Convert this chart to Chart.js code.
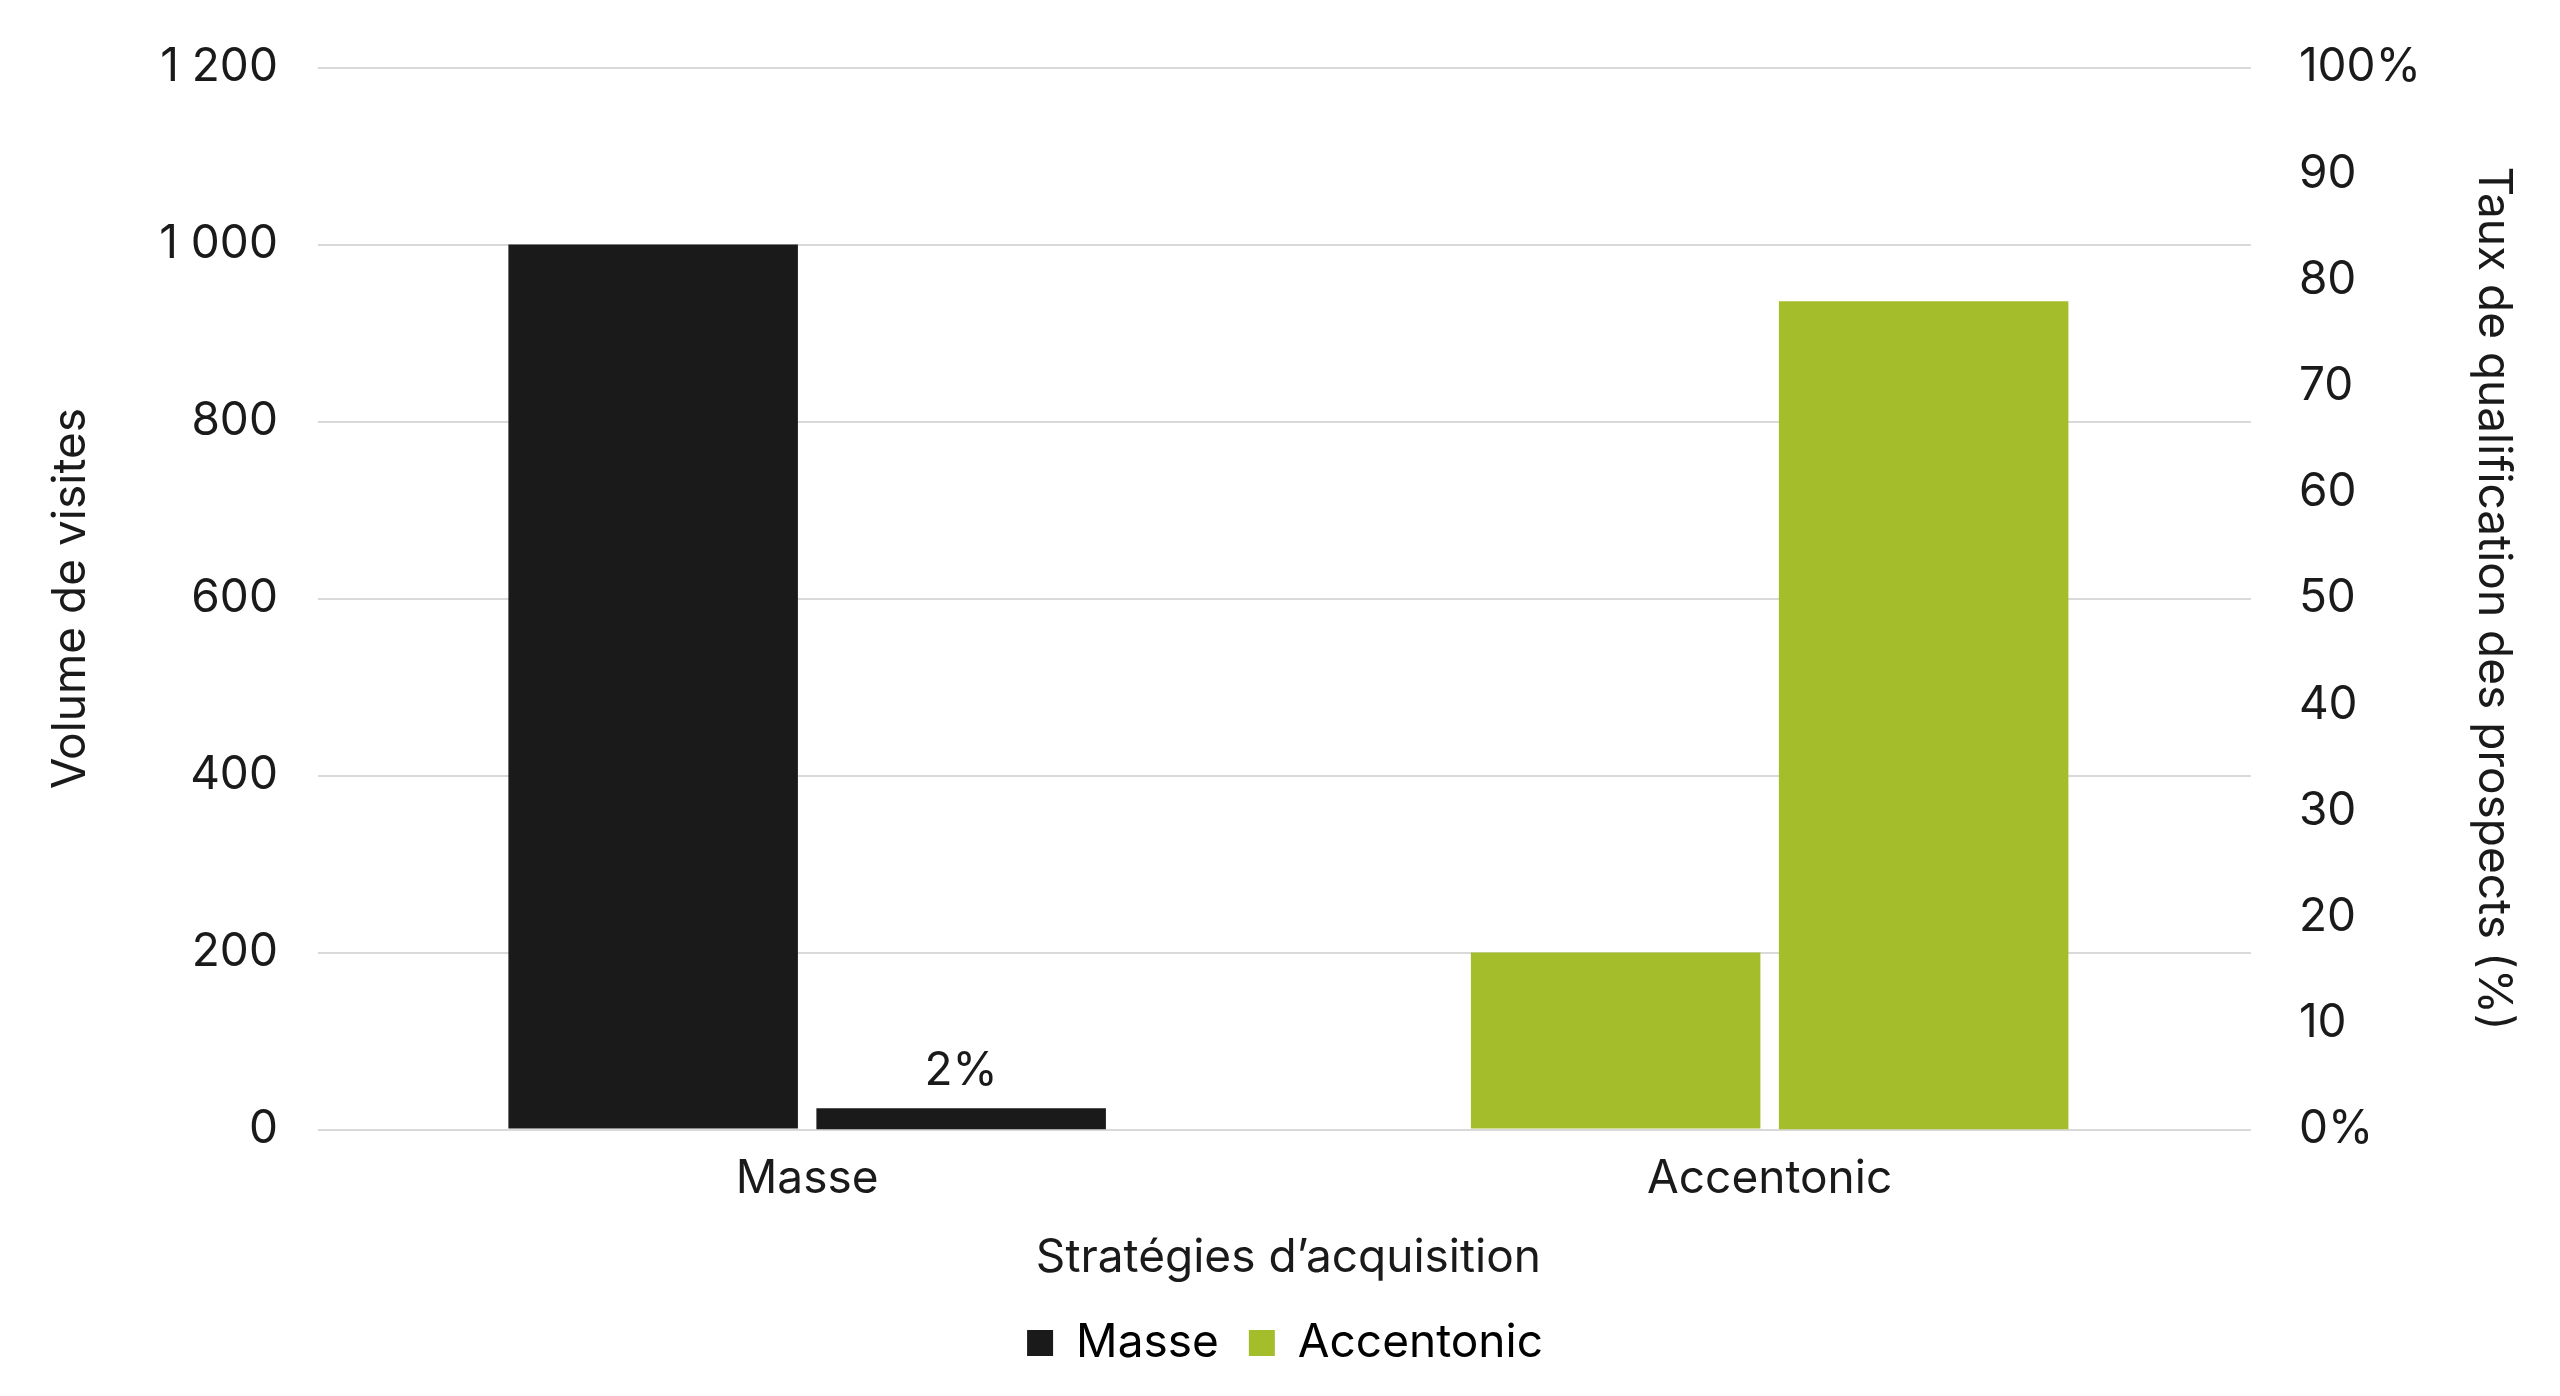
<!DOCTYPE html>
<html><head><meta charset="utf-8">
<script src="https://cdn.jsdelivr.net/npm/chart.js@4/dist/chart.umd.min.js"></script>
<style>html,body{margin:0;background:#fff}#wrap{width:2560px;height:1396px}</style>
</head><body><div id="wrap"><canvas id="c"></canvas></div>
<script>
const categories=['Masse','Accentonic'];
const volume=[1000,200];
const rate=[2,78];
const colors=['#1a1a1a','#a4bd2a'];
const rateLabels=['2%',''];

Chart.defaults.font.family='Inter';
Chart.defaults.color='#1a1a1a';

const barLabels={id:'barLabels',afterDatasetsDraw(ch){
  const ctx=ch.ctx,meta=ch.getDatasetMeta(1);
  ctx.save();ctx.font='46px Inter';ctx.fillStyle='#1a1a1a';ctx.textAlign='center';ctx.textBaseline='bottom';
  meta.data.forEach((b,i)=>{if(rateLabels[i])ctx.fillText(rateLabels[i],b.x,b.y-14);});
  ctx.restore();
}};

new Chart(document.getElementById('c'),{
  type:'bar',
  data:{labels:categories,datasets:[
    {label:'Volume de visites',data:volume,backgroundColor:colors,yAxisID:'y',categoryPercentage:0.64,barPercentage:0.94},
    {label:'Taux',data:rate,backgroundColor:colors,yAxisID:'y1',categoryPercentage:0.64,barPercentage:0.94}
  ]},
  options:{responsive:true,maintainAspectRatio:false,animation:false,
    layout:{padding:{left:40,right:30,top:30,bottom:20}},
    plugins:{tooltip:{enabled:false},
      legend:{position:'bottom',labels:{font:{size:46},boxWidth:26,boxHeight:26,padding:30,
        generateLabels:()=>categories.map((c,i)=>({text:c,fillStyle:colors[i],strokeStyle:colors[i],lineWidth:0,datasetIndex:i}))},
        onClick:()=>{}}},
    scales:{
      x:{grid:{display:false},border:{display:false},ticks:{font:{size:46},padding:14},
        title:{display:true,text:'Stratégies d’acquisition',font:{size:46},padding:{top:10}}},
      y:{min:0,max:1200,ticks:{stepSize:200,font:{size:46},padding:40,callback:v=>v.toLocaleString('fr-FR').replace(/\s/g,' ')},
        grid:{color:'#d9d9d9',lineWidth:2},border:{display:false},
        title:{display:true,text:'Volume de visites',font:{size:46},padding:{bottom:20}}},
      y1:{position:'right',min:0,max:100,ticks:{stepSize:10,font:{size:46},padding:40,callback:v=>(v===0||v===100)?v+'%':v},
        grid:{display:false},border:{display:false},
        title:{display:true,text:'Taux de qualification des prospects (%)',font:{size:46},padding:{top:10}}}
    }},
  plugins:[barLabels]
});
</script></body></html>
